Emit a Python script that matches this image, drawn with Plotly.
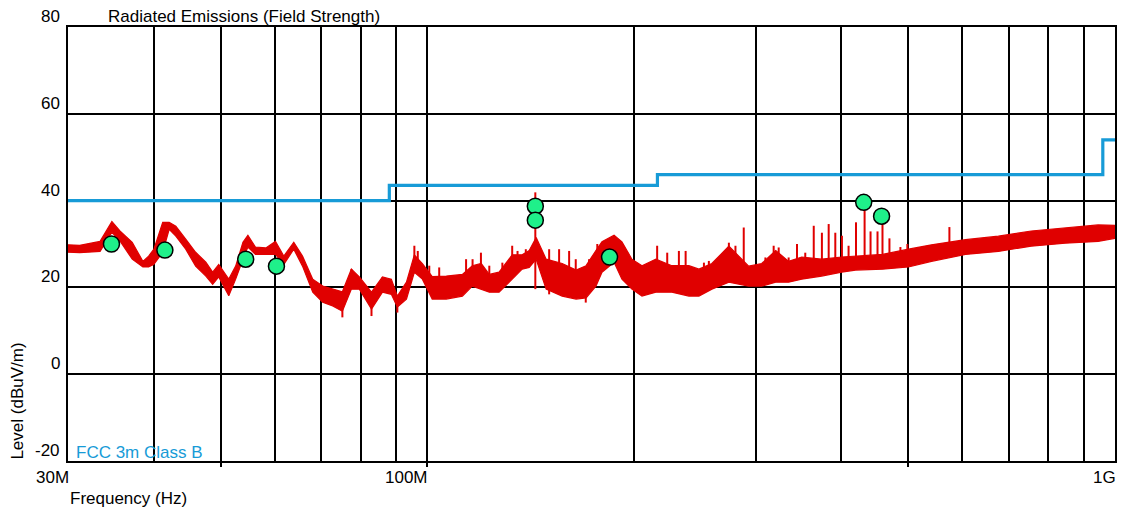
import numpy as np
import plotly.graph_objects as go

# ---- data (frequencies in MHz, levels in dBuV/m) ----
env_freq = [30.0, 31.2, 33.4, 34.75, 35.7, 37.2, 38.55, 39.3, 40.0, 41.2, 42.1, 43.05, 44.5, 46.0,
            47.6, 48.7, 49.7, 51.4, 52.6, 53.9, 54.8, 56.2, 58.2, 60.1, 61.8, 63.9, 65.8, 68.1,
            70.4, 72.8, 75.2, 77.5, 79.6, 82.9, 86.0, 88.6, 90.4, 93.2, 95.7, 98.3, 101.6, 106.5,
            112.4, 116.2, 119.7, 123.0, 127.1, 132.8, 137.3, 140.6, 143.9, 148.8, 157.0, 164.5,
            170.1, 175.8, 179.4, 186.8, 191.8, 198.3, 205.1, 214.9, 226.7, 240.0, 248.2, 259.2,
            274.4, 293.2, 306.3, 321.0, 335.2, 350.2, 374.4, 400.3, 419.5, 459.0, 500.7, 540.9,
            606.0, 676.6, 755.3, 846.4, 945.0, 1000.0]
env_lo = [28.1, 28.0, 28.3, 32.7, 30.7, 26.5, 24.7, 24.7, 25.3, 28.1, 33.4, 31.8, 28.8, 24.9,
          22.6, 20.7, 22.4, 18.1, 21.9, 26.5, 29.3, 27.6, 27.6, 27.6, 25.3, 28.8, 24.9, 18.9,
          16.6, 15.7, 14.5, 19.6, 19.6, 15.0, 18.9, 18.4, 15.5, 17.3, 23.5, 21.9, 17.3, 17.3,
          18.0, 20.3, 19.6, 18.9, 18.9, 21.9, 24.2, 24.6, 26.5, 19.6, 18.0, 17.3,
          17.6, 20.3, 23.5, 25.8, 21.9, 19.6, 18.0, 18.9, 18.9, 18.0, 18.0, 19.6,
          21.2, 20.3, 20.3, 21.2, 21.2, 21.9, 22.6, 23.5, 24.0, 24.2, 24.7, 26.0,
          27.6, 28.3, 29.5, 30.2, 30.6, 31.3]
env_hi = [29.8, 29.7, 30.6, 35.2, 33.0, 30.4, 26.0, 27.2, 28.8, 35.0, 35.0, 34.1, 31.1, 28.1,
          25.8, 23.5, 25.3, 21.9, 24.9, 30.4, 32.0, 29.3, 29.1, 30.6, 27.2, 30.4, 27.2, 21.9,
          20.3, 19.6, 19.0, 24.2, 22.4, 18.9, 22.4, 21.9, 18.0, 21.2, 27.5, 25.5, 22.5, 22.6,
          23.0, 25.0, 25.5, 23.0, 23.5, 27.5, 27.5, 28.5, 31.5, 26.5, 25.5, 24.0,
          25.0, 28.5, 30.5, 32.0, 30.5, 26.5, 25.0, 26.5, 25.0, 25.0, 24.2, 25.5,
          29.5, 24.9, 25.5, 28.5, 26.0, 27.0, 26.5, 27.0, 27.2, 27.6, 28.8, 29.8,
          31.0, 31.8, 33.0, 33.8, 34.4, 34.3]

spike_freq = [75.2, 77.5, 82.9, 86.0, 90.4, 95.7, 96.8, 100.6, 104.0, 113.8, 116.3, 119.6, 123.0,
              128.5, 132.8, 135.2, 139.0, 143.5, 150.3, 155.4, 160.7, 164.3, 169.9, 171.8, 176.6,
              215.8, 223.2, 232.1, 237.4, 252.4, 256.6, 274.4, 280.5, 288.4, 310.1, 318.8, 324.2,
              335.2, 344.7, 354.4, 364.6, 374.7, 383.3, 391.9, 400.7, 409.7, 420.0, 432.3, 441.0,
              451.4, 459.0, 469.8, 487.4, 498.9, 574.3]
spike_lo = [13.1, 21.0, 13.4, 20.0, 14.2, 25.0, 25.0, 21.0, 20.0, 21.0, 22.0, 22.0, 21.0,
            21.0, 24.0, 25.0, 25.0, 19.6, 18.4, 21.0, 21.0, 20.0, 16.5, 21.0, 24.0,
            22.0, 22.0, 22.0, 22.0, 21.0, 21.0, 24.0, 24.0, 23.0, 23.0, 24.0, 24.0,
            24.0, 24.0, 24.0, 24.0, 24.0, 24.0, 24.0, 25.0, 25.0, 25.0, 25.5, 25.5,
            25.5, 25.5, 26.0, 26.0, 26.0, 28.0]
spike_hi = [17.0, 24.2, 17.0, 22.3, 17.0, 29.6, 28.4, 25.0, 24.6, 26.5, 26.5, 28.0, 25.0,
            25.7, 29.6, 28.4, 28.8, 41.9, 28.8, 28.8, 28.4, 26.5, 22.0, 26.5, 30.0,
            29.6, 28.0, 28.4, 28.4, 25.7, 26.1, 30.3, 29.6, 33.8, 26.9, 29.6, 29.2,
            26.9, 30.0, 28.0, 34.2, 32.6, 34.6, 32.6, 31.9, 29.6, 35.0, 39.6, 32.9,
            32.9, 36.4, 31.3, 29.3, 30.0, 33.9]

peak_freq = [34.7, 41.5, 54.4, 60.3, 143.5, 143.5, 184.0, 431.0, 457.6]
peak_level = [30.0, 28.6, 26.5, 24.9, 38.7, 35.5, 27.0, 39.6, 36.4]

limit_freq = [30, 88, 216, 960, 1000]
limit_level = [40, 43.5, 46, 54, 54]
limit_name = "FCC 3m Class B"

y_ticks = [80, 60, 40, 20, 0, -20]
x_grid = [40, 50, 60, 70, 80, 90, 100, 200, 300, 400, 500, 600, 700, 800, 900]
x_label_vals = [30, 100, 1000]
x_label_text = ["30M", "100M", "1G"]
x_tick_marks = [50, 100, 500]

RED = "#e00000"
BLUE = "#179bd7"
GREEN = "#1ff08a"
FONT = "Liberation Sans, Arial, sans-serif"
MHZ = 1e6

fig = go.Figure()

# noise band
bx = [f * MHZ for f in env_freq] + [f * MHZ for f in env_freq[::-1]]
by = env_hi + env_lo[::-1]
fig.add_trace(go.Scatter(x=bx, y=by, fill="toself", fillcolor=RED, mode="lines",
                         line=dict(color=RED, width=1.2), hoverinfo="skip", showlegend=False))

# spikes
sx, sy = [], []
for f, lo, hi in zip(spike_freq, spike_lo, spike_hi):
    sx += [f * MHZ, f * MHZ, None]
    sy += [lo, hi, None]
fig.add_trace(go.Scatter(x=sx, y=sy, mode="lines", line=dict(color=RED, width=2),
                         hoverinfo="skip", showlegend=False))

# limit line
fig.add_trace(go.Scatter(x=[f * MHZ for f in limit_freq], y=limit_level, mode="lines",
                         line=dict(color=BLUE, width=3.2, shape="hv"), showlegend=False))

# peaks
fig.add_trace(go.Scatter(x=[f * MHZ for f in peak_freq], y=peak_level, mode="markers",
                         marker=dict(size=16, color=GREEN, line=dict(color="black", width=1.5)),
                         showlegend=False))

fig.update_xaxes(type="log", range=[np.log10(30 * MHZ), np.log10(1000 * MHZ)],
                 tickvals=[f * MHZ for f in x_grid], showticklabels=False, ticks="",
                 showgrid=True, gridcolor="black", gridwidth=1.5,
                 showline=True, linecolor="black", linewidth=1.5, mirror=True,
                 minor=dict(tickvals=[f * MHZ for f in x_tick_marks], ticks="outside",
                            ticklen=4, tickcolor="black", tickwidth=1.5, showgrid=False),
                 zeroline=False)
fig.update_yaxes(range=[-20, 80], tickvals=y_ticks, showticklabels=False, ticks="",
                 showgrid=True, gridcolor="black", gridwidth=1.5,
                 showline=True, linecolor="black", linewidth=1.5, mirror=True,
                 zeroline=False)

ann = []
for v in y_ticks:
    ann.append(dict(x=0, xref="paper", y=v, yref="y", text=str(v), showarrow=False,
                    xanchor="right", yanchor="bottom", xshift=-6, yshift=-1,
                    font=dict(family=FONT, size=17, color="black")))
for v, t in zip(x_label_vals, x_label_text):
    ann.append(dict(x=np.log10(v * MHZ), xref="x", y=0, yref="paper", text=t, showarrow=False,
                    xanchor="right", yanchor="top", xshift=3, yshift=-5,
                    font=dict(family=FONT, size=17, color="black")))
ann.append(dict(x=(106 - 68) / 1049, xref="paper", y=1, yref="paper",
                text="Radiated Emissions (Field Strength)", showarrow=False,
                xanchor="left", yanchor="bottom", yshift=-1,
                font=dict(family=FONT, size=17, color="black")))
ann.append(dict(x=0, xref="paper", y=0, yref="paper", text="Frequency (Hz)", showarrow=False,
                xanchor="left", yanchor="top", yshift=-26,
                font=dict(family=FONT, size=17, color="black")))
ann.append(dict(x=(17 - 68) / 1049, xref="paper", y=0, yref="paper", text="Level (dBuV/m)",
                showarrow=False, textangle=-90, xanchor="center", yanchor="bottom", yshift=-1,
                font=dict(family=FONT, size=17, color="black")))
ann.append(dict(x=0, xref="paper", y=0, yref="paper", text=limit_name, showarrow=False,
                xanchor="left", yanchor="bottom", xshift=6, yshift=-3,
                font=dict(family=FONT, size=17, color=BLUE)))

fig.update_layout(width=1128, height=511, margin=dict(l=68, r=11, t=27, b=50),
                  paper_bgcolor="white", plot_bgcolor="white", annotations=ann,
                  showlegend=False)

fig.write_html("out.html", config={"responsive": False, "displayModeBar": False},
               post_script="document.body.style.margin='0';document.body.style.overflow='hidden';")
